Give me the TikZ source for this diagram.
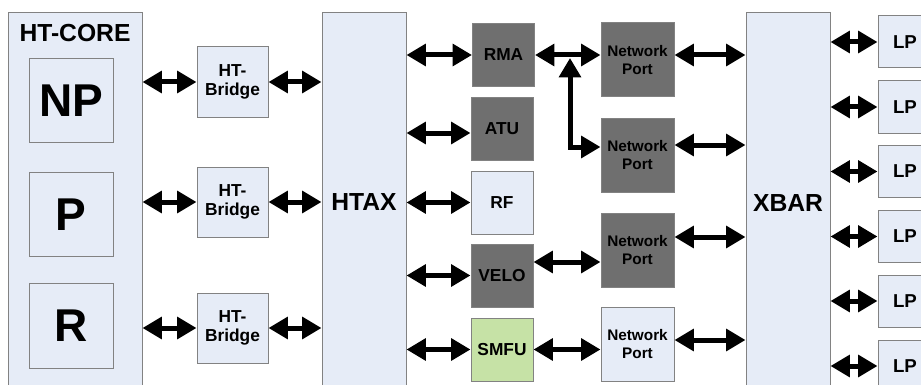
\documentclass[tikz,border=0pt]{standalone}
\usepackage{fontspec}
\setmainfont{Liberation Sans}
\usetikzlibrary{arrows.meta}
\definecolor{lightbox}{HTML}{E6ECF7}
\definecolor{darkbox}{HTML}{6F6F6F}
\definecolor{greenbox}{HTML}{C6E2A6}
\definecolor{edgegray}{HTML}{828282}
\begin{document}
\begin{tikzpicture}[x=0.75pt,y=-0.75pt,
  box/.style={draw=edgegray, line width=0.75pt, inner sep=0pt, align=center, font=\bfseries},
  light/.style={box, fill=lightbox},
  dark/.style={box, fill=darkbox},
  smfubox/.style={box, fill=greenbox},
  bigfont/.style={font=\bfseries\fontsize{18.5}{20}\selectfont},
  hugefont/.style={font=\bfseries\fontsize{34.5}{36}\selectfont},
  midfont/.style={font=\bfseries\fontsize{13}{14.5}\selectfont},
  netfont/.style={font=\bfseries\fontsize{11.5}{13.5}\selectfont},
  lpfont/.style={font=\bfseries\fontsize{14}{16}\selectfont},
  coreinner/.style={light, minimum width=63pt, minimum height=63.5pt, hugefont},
  bridge/.style={light, minimum width=53.25pt, minimum height=52.5pt, midfont},
  unit/.style={minimum width=46.5pt, minimum height=47.25pt, midfont},
  netport/.style={minimum width=54.75pt, minimum height=55.5pt, netfont},
  lpbox/.style={light, minimum width=40.5pt, minimum height=39pt, lpfont},
  dbl/.style={line width=3.75pt, {Triangle[length=14.5pt,width=16pt]}-{Triangle[length=14.5pt,width=16pt]}}
]
\clip (0,0) rectangle (921,385);
\fill[white] (0,0) rectangle (921,385);

% HT-CORE
\node[light, minimum width=100.5pt, minimum height=290.25pt] (core) at (75,206.5) {};
\node[bigfont] (coretitle) at (75,33.5) {HT-CORE};
\node[coreinner] (np) at (71,100.5) {NP};
\node[coreinner] (p) at (71,214.5) {P};
\node[coreinner] (r) at (71,326) {R};

% bridges
\node[bridge] (br1) at (232.5,82) {HT-\\Bridge};
\node[bridge] (br2) at (232.5,202) {HT-\\Bridge};
\node[bridge] (br3) at (232.5,328) {HT-\\Bridge};

% HTAX
\node[light, minimum width=63pt, minimum height=283.5pt, bigfont] (htax) at (364,202) {HTAX};

% units
\node[dark, unit] (rma) at (503.5,55) {RMA};
\node[dark, unit] (atu) at (502,129) {ATU};
\node[light, unit] (rf) at (502,202.5) {RF};
\node[dark, unit] (velo) at (502,275.5) {VELO};
\node[smfubox, unit] (smfu) at (502,349.5) {SMFU};

% network ports
\node[dark, netport] (np1) at (637.5,60) {Network\\Port};
\node[dark, netport] (np2) at (637.5,155) {Network\\Port};
\node[dark, netport] (np3) at (637.5,250) {Network\\Port};
\node[light, netport] (np4) at (637.5,344) {Network\\Port};

% XBAR
\node[light, minimum width=63pt, minimum height=285pt, bigfont] (xbar) at (788,203) {XBAR};

% LPs
\node[lpbox] (lp1) at (905,42) {LP};
\node[lpbox] (lp2) at (905,107) {LP};
\node[lpbox] (lp3) at (905,171.5) {LP};
\node[lpbox] (lp4) at (905,236.5) {LP};
\node[lpbox] (lp5) at (905,301) {LP};
\node[lpbox] (lp6) at (905,366) {LP};

% core <-> bridges <-> HTAX
\foreach \b in {br1,br2,br3}{
  \draw[dbl] (core.east |- \b.west) -- (\b.west);
  \draw[dbl] (\b.east) -- (\b.east -| htax.west);
}

% HTAX <-> units
\coordinate (atuin) at ([yshift=-3pt]atu.west);
\draw[dbl] (htax.east |- rma.west) -- (rma.west);
\draw[dbl] (htax.east |- atuin) -- (atuin);
\draw[dbl] (htax.east |- rf.west) -- (rf.west);
\draw[dbl] (htax.east |- velo.west) -- (velo.west);
\draw[dbl] (htax.east |- smfu.west) -- (smfu.west);

% units <-> network ports
\draw[dbl] (rma.east) -- (rma.east -| np1.west);
\coordinate (jn) at ([xshift=26.25pt,yshift=-2.25pt]rma.east);
\coordinate (np2in) at ([yshift=6pt]np2.west);
\draw[dbl] (jn) |- (np2in);
\coordinate (np3in) at ([yshift=-9pt]np3.west);
\draw[dbl] (velo.east |- np3in) -- (np3in);
\draw[dbl] (smfu.east) -- (smfu.east -| np4.west);

% network ports <-> XBAR
\draw[dbl] ([yshift=3.75pt]np1.east) -- ([yshift=3.75pt]np1.east -| xbar.west);
\draw[dbl] ([yshift=7.5pt]np2.east) -- ([yshift=7.5pt]np2.east -| xbar.west);
\draw[dbl] ([yshift=9.75pt]np3.east) -- ([yshift=9.75pt]np3.east -| xbar.west);
\draw[dbl] ([yshift=3pt]np4.east) -- ([yshift=3pt]np4.east -| xbar.west);

% XBAR <-> LPs
\foreach \l in {lp1,lp2,lp3,lp4,lp5,lp6}{
  \draw[dbl] (xbar.east |- \l.west) -- (\l.west);
}
\end{tikzpicture}
\end{document}
